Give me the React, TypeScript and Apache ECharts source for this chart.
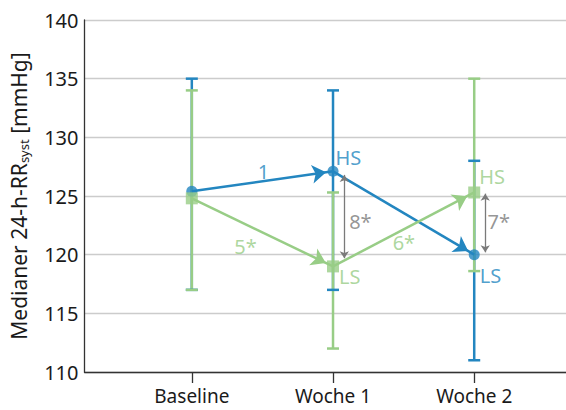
import React, { useEffect, useRef } from "react";
import * as echarts from "echarts";

const categories = ["Baseline", "Woche 1", "Woche 2"];
const xPositions = [1, 2, 3];

// HS (blue, circles)
const hsMedian = [125.4, 127.1, 120.0];
const hsLow = [117, 117, 111];
const hsHigh = [135, 134, 128];
const hsLabels = ["", "HS", "LS"];

// LS (green, squares)
const lsMedian = [124.8, 119.0, 125.3];
const lsLow = [117, 112, 118.6];
const lsHigh = [134, 125.3, 135];
const lsLabels = ["", "LS", "HS"];

// change annotations
const annotationText = ["1", "5*", "6*", "8*", "7*"];
const annotationX = [1.507, 1.38, 2.502, 2.194, 3.174];
const annotationY = [127.1, 120.7, 121.0, 122.8, 122.8];
const annotationColorKey = ["hs", "ls", "ls", "gray", "gray"];

// between-group differences (gray double arrows)
const diffX = [2.08, 3.078];
const diffTop = [126.8, 125.2];
const diffBottom = [119.7, 120.2];

const BLUE = "#2386c0";
const GREEN = "#98cd86";
const GRAY = "#7a7a7a";
const FONT = "Noto Sans";

const colorFor = (k: string) => (k === "hs" ? BLUE : k === "ls" ? GREEN : GRAY);

function stemSeries(low: number[], high: number[], color: string, z: number) {
  return {
    type: "custom",
    z,
    silent: true,
    data: xPositions.map((x, i) => [x, low[i], high[i]]),
    encode: { x: 0, y: [1, 2] },
    renderItem: (params: any, api: any) => {
      const x = api.value(0);
      const p1 = api.coord([x, api.value(1)]);
      const p2 = api.coord([x, api.value(2)]);
      return {
        type: "line",
        shape: { x1: p1[0], y1: p1[1], x2: p2[0], y2: p2[1] },
        style: { stroke: color, lineWidth: 2.5 },
      };
    },
  };
}

function capSeries(low: number[], high: number[], color: string, z: number) {
  return {
    type: "custom",
    z,
    silent: true,
    data: xPositions.map((x, i) => [x, low[i], high[i]]),
    encode: { x: 0, y: [1, 2] },
    renderItem: (params: any, api: any) => {
      const x = api.value(0);
      const p1 = api.coord([x, api.value(1)]);
      const p2 = api.coord([x, api.value(2)]);
      const w = 6;
      return {
        type: "group",
        children: [
          {
            type: "line",
            shape: { x1: p1[0] - w, y1: p1[1], x2: p1[0] + w, y2: p1[1] },
            style: { stroke: color, lineWidth: 2.5 },
          },
          {
            type: "line",
            shape: { x1: p2[0] - w, y1: p2[1], x2: p2[0] + w, y2: p2[1] },
            style: { stroke: color, lineWidth: 2.5 },
          },
        ],
      };
    },
  };
}

function arrowSeries(median: number[], color: string, z: number, back: number) {
  const segs = [];
  for (let i = 0; i < median.length - 1; i++) {
    segs.push([
      { coord: [xPositions[i], median[i]] },
      { coord: [xPositions[i + 1], median[i + 1]] },
    ]);
  }
  return {
    type: "line",
    z,
    silent: true,
    data: [],
    markLine: {
      silent: true,
      animation: false,
      symbol: ["none", "arrow"],
      symbolSize: 14,
      symbolOffset: [0, [0, back]],
      lineStyle: { color, width: 2.5, type: "solid" },
      label: { show: false },
      data: segs,
    },
  };
}

export default function App() {
  const ref = useRef<HTMLDivElement>(null);
  useEffect(() => {
    if (!ref.current) return;
    const chart = echarts.init(ref.current, undefined, { renderer: "svg" });
    chart.setOption({
      animation: false,
      backgroundColor: "#ffffff",
      grid: { left: 79, right: 0, top: 20, bottom: 38 },
      xAxis: {
        type: "value",
        min: 0.24,
        max: 3.65,
        splitLine: { show: false },
        axisLine: { show: true, lineStyle: { color: "#333", width: 1.3 } },
        axisTick: {
          show: true,
          customValues: xPositions,
          length: 11,
          lineStyle: { color: "#333", width: 1.3 },
        },
        axisLabel: {
          customValues: xPositions,
          formatter: (v: number) => categories[Math.round(v) - 1] ?? "",
          color: "#1a1a1a",
          fontSize: 19,
          fontFamily: FONT,
          margin: 14,
        },
      },
      yAxis: {
        type: "value",
        min: 110,
        max: 140,
        interval: 5,
        axisLine: { show: true, lineStyle: { color: "#333", width: 1.3 } },
        axisTick: { show: false },
        splitLine: { show: true, lineStyle: { color: "#cccccc", width: 1.3 } },
        axisLabel: { color: "#1a1a1a", fontSize: 20, fontFamily: FONT, margin: 6 },
        name: "{a|Medianer 24-h-RR}{b|syst}{a| [mmHg]}",
        nameLocation: "middle",
        nameRotate: 90,
        nameGap: 54,
        nameTextStyle: {
          color: "#1a1a1a",
          fontFamily: FONT,
          rich: {
            a: { fontSize: 21, fontFamily: FONT, color: "#1a1a1a" },
            b: {
              fontSize: 13,
              fontFamily: FONT,
              color: "#1a1a1a",
              verticalAlign: "bottom",
              padding: [11, 0, 0, 0],
            },
          },
        },
      },
      series: [
        stemSeries(hsLow, hsHigh, BLUE, 1),
        stemSeries(lsLow, lsHigh, GREEN, 2),
        capSeries(hsLow, hsHigh, BLUE, 3),
        capSeries(lsLow, lsHigh, GREEN, 3),
        arrowSeries(hsMedian, BLUE, 4, 7),
        arrowSeries(lsMedian, GREEN, 5, 8),
        {
          type: "line",
          z: 6,
          silent: true,
          data: [],
          markLine: {
            silent: true,
            animation: false,
            symbol: ["arrow", "arrow"],
            symbolSize: 7,
            lineStyle: { color: GRAY, width: 1.3, type: "solid" },
            label: { show: false },
            data: diffX.map((x, i) => [
              { coord: [x, diffTop[i]] },
              { coord: [x, diffBottom[i]] },
            ]),
          },
        },
        {
          type: "scatter",
          z: 7,
          symbol: "circle",
          symbolSize: 11,
          itemStyle: { color: BLUE },
          data: xPositions.map((x, i) => ({ value: [x, hsMedian[i]], name: hsLabels[i] })),
          label: {
            show: true,
            formatter: (p: any) => p.name,
            position: "right",
            color: BLUE,
            fontSize: 20,
            fontFamily: FONT,
          },
          labelLayout: (p: any) => {
            const i = p.dataIndex;
            return i === 1 ? { dx: -8, dy: -14 } : { dx: -5, dy: 21 };
          },
        },
        {
          type: "scatter",
          z: 8,
          symbol: "rect",
          symbolSize: 12,
          itemStyle: { color: GREEN },
          data: xPositions.map((x, i) => ({ value: [x, lsMedian[i]], name: lsLabels[i] })),
          label: {
            show: true,
            formatter: (p: any) => p.name,
            position: "right",
            color: GREEN,
            fontSize: 20,
            fontFamily: FONT,
          },
          labelLayout: (p: any) => {
            const i = p.dataIndex;
            return i === 1 ? { dx: -5, dy: 10 } : { dx: -6, dy: -16 };
          },
        },
        {
          type: "scatter",
          z: 9,
          symbolSize: 0,
          silent: true,
          data: annotationText.map((t, i) => ({
            value: [annotationX[i], annotationY[i]],
            name: t,
            label: { color: colorFor(annotationColorKey[i]) },
          })),
          label: {
            show: true,
            position: "inside",
            formatter: (p: any) => p.name,
            fontSize: 20,
            fontFamily: FONT,
          },
        },
      ],
    });
    return () => chart.dispose();
  }, []);
  return <div ref={ref} style={{ width: 566, height: 410, position: "absolute", left: 0, top: 0 }} />;
}
